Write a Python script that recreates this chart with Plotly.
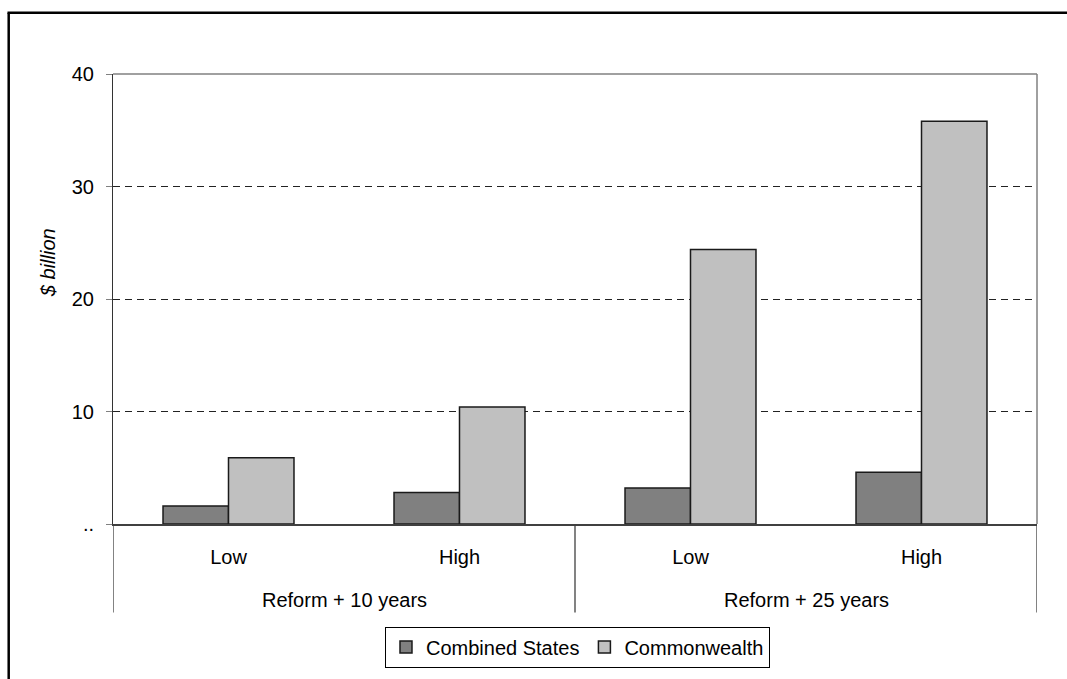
import plotly.graph_objects as go

# ---- data ----
scenarios = ["Low", "High", "Low", "High"]
periods = ["Reform + 10 years", "Reform + 10 years", "Reform + 25 years", "Reform + 25 years"]
combined_states = [1.6, 2.8, 3.2, 4.6]
commonwealth = [5.9, 10.4, 24.4, 35.8]
y_tickvals = [0, 10, 20, 30, 40]
y_ticktext = ["..", "10", "20", "30", "40"]

FONT = "Liberation Sans, Arial, sans-serif"
W, H = 1067, 679
L, R, T, B = 113, 30, 74, 153
pw, ph = W - L - R, H - T - B

def px_x(p):
    return (p - L) / pw

def px_y(p):
    return (H - B - p) / ph

xpos = list(range(len(scenarios)))

fig = go.Figure()
fig.add_trace(go.Bar(x=xpos, y=combined_states, name="Combined States",
                     marker=dict(color="#808080", line=dict(color="#1a1a1a", width=1.5))))
fig.add_trace(go.Bar(x=xpos, y=commonwealth, name="Commonwealth",
                     marker=dict(color="#C0C0C0", line=dict(color="#1a1a1a", width=1.5))))

shapes = []
# outer frame (left and top edges visible)
shapes.append(dict(type="line", xref="paper", yref="paper", x0=px_x(8.7), x1=px_x(8.7),
                   y0=px_y(12.5), y1=px_y(720), line=dict(color="black", width=2.5)))
shapes.append(dict(type="line", xref="paper", yref="paper", x0=px_x(7.5), x1=px_x(1100),
                   y0=px_y(12.5), y1=px_y(12.5), line=dict(color="black", width=2.5)))
# plot area border top / right
shapes.append(dict(type="line", xref="paper", yref="paper", x0=0, x1=1, y0=1, y1=1,
                   line=dict(color="#808080", width=1.5)))
shapes.append(dict(type="line", xref="paper", yref="paper", x0=1, x1=1, y0=0, y1=1,
                   line=dict(color="#808080", width=1.5)))
# category dividers
groups = []
for p in periods:
    if p not in groups:
        groups.append(p)
bounds = [-0.5]
for g in groups:
    idx = [i for i, p in enumerate(periods) if p == g]
    bounds.append(max(idx) + 0.5)
for b in bounds:
    shapes.append(dict(type="line", xref="x", yref="paper", x0=b, x1=b,
                       y0=0, y1=px_y(615), line=dict(color="#404040", width=1.3)))

annotations = []
for g in groups:
    idx = [i for i, p in enumerate(periods) if p == g]
    annotations.append(dict(x=sum(idx) / len(idx), y=px_y(602), xref="x", yref="paper",
                            text=g, showarrow=False, xanchor="center", yanchor="middle",
                            font=dict(family=FONT, size=20, color="black")))
annotations.append(dict(x=px_x(48), y=px_y(264), xref="paper", yref="paper",
                        text="<i>$ billion</i>", showarrow=False, textangle=-90,
                        xanchor="center", yanchor="middle",
                        font=dict(family=FONT, size=20, color="black")))

fig.update_layout(
    width=W, height=H,
    margin=dict(l=L, r=R, t=T, b=B, pad=0),
    paper_bgcolor="white", plot_bgcolor="white",
    barmode="group", bargap=0.433, bargroupgap=0,
    font=dict(family=FONT, size=20, color="black"),
    shapes=shapes, annotations=annotations,
    legend=dict(orientation="h", x=0.5027, xanchor="center", y=px_y(629), yanchor="top",
                bordercolor="black", borderwidth=1, bgcolor="white",
                font=dict(family=FONT, size=20, color="black"),
                itemwidth=30, tracegroupgap=0),
)
fig.update_xaxes(range=[-0.5, len(scenarios) - 0.5], tickvals=xpos, ticktext=scenarios,
                 showline=True, linecolor="#404040", linewidth=2, ticks="",
                 showgrid=False, zeroline=False, ticklabelstandoff=14,
                 tickfont=dict(family=FONT, size=20, color="black"))
fig.update_yaxes(range=[0, 40], tickvals=y_tickvals, ticktext=y_ticktext,
                 showline=True, linecolor="#333333", linewidth=1,
                 ticks="outside", ticklen=6, tickcolor="#808080", tickwidth=1,
                 showgrid=True, gridcolor="#222222", gridwidth=1, griddash="7px,5px",
                 zeroline=False, ticklabelstandoff=8,
                 tickfont=dict(family=FONT, size=20, color="black"))

fig.write_html("out.html")
